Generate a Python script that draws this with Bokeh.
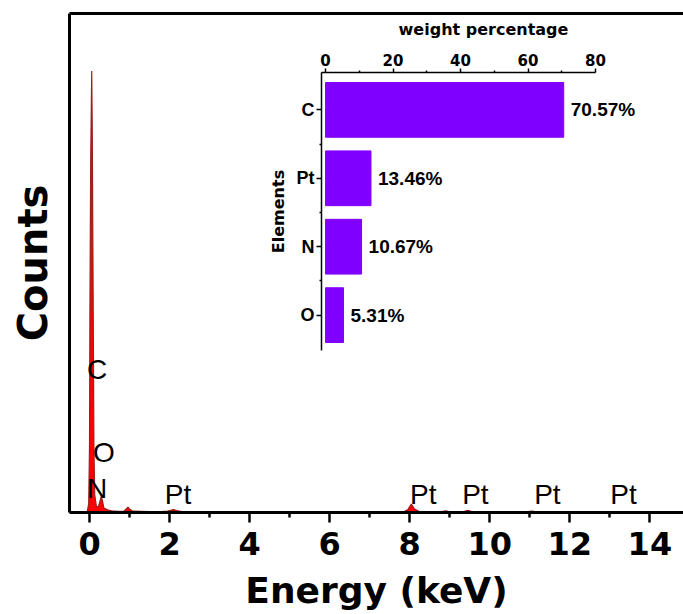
from bokeh.plotting import figure
from bokeh.models import FixedTicker, LinearAxis, Range1d, ColumnDataSource
from bokeh.core.properties import value
from bokeh.embed import file_html
from bokeh.resources import INLINE

# ---- EDS spectrum ----
energy = [-0.5, -0.06, -0.02, 0.0, 0.01, 0.03, 0.055, 0.07, 0.09, 0.11, 0.13, 0.17, 0.22,
          0.26, 0.29, 0.32, 0.36, 0.45, 0.55, 0.7, 0.86, 0.93, 0.96, 1.0, 1.08, 1.5,
          1.75, 1.85, 1.95, 2.05, 2.1, 2.18, 2.3, 3.0, 5.0, 7.0, 7.85, 7.95, 8.04, 8.12,
          8.25, 8.8, 8.9, 9.0, 9.35, 9.45, 9.55, 10.9, 11.05, 11.2, 12.0, 14.84]
counts = [0.0, 0.0, 2.0, 15.0, 45.0, 80.0, 100.0, 85.0, 50.0, 15.0, 4.0, 1.5, 1.2,
          2.5, 3.6, 2.8, 1.0, 0.6, 0.4, 0.25, 0.3, 0.9, 1.2, 0.8, 0.3, 0.2,
          0.15, 0.25, 0.3, 0.55, 0.65, 0.45, 0.2, 0.15, 0.1, 0.1, 0.15, 0.6, 1.9, 0.8,
          0.15, 0.2, 0.35, 0.15, 0.2, 0.5, 0.2, 0.15, 0.3, 0.1, 0.05, 0.05]

peak_labels = ["C", "O", "N", "Pt", "Pt", "Pt", "Pt", "Pt"]
peak_label_energy = [0.19, 0.36, 0.19, 2.21, 8.34, 9.64, 11.44, 13.34]
peak_label_counts = [32.3, 13.6, 5.5, 4.1, 4.1, 4.1, 4.1, 4.1]

x_ticks = [0, 2, 4, 6, 8, 10, 12, 14]
x_minor = [1, 3, 5, 7, 9, 11, 13]

# ---- inset: weight percentage ----
elements = ["C", "Pt", "N", "O"]
weight = [70.57, 13.46, 10.67, 5.31]
inset_ticks = [0, 20, 40, 60, 80]
inset_minor = [10, 30, 50, 70]

BOLD_WIDE = "DejaVu Sans"
ARIAL = "Liberation Sans"

p = figure(width=683, height=614, x_range=Range1d(-0.5, 14.84), y_range=Range1d(0, 113),
           output_backend="svg", toolbar_location=None,
           min_border_left=69, min_border_top=13, min_border_right=0, min_border_bottom=102)
p.outline_line_color = None
p.grid.visible = False
p.background_fill_color = "white"

p.varea(x=energy, y1=[0.0] * len(energy), y2=counts, fill_color="#ff0000")
p.line(x=energy, y=counts, line_color="#9a2020", line_width=1.2)

p.text(x=peak_label_energy, y=peak_label_counts, text=peak_labels,
       text_font=value(ARIAL), text_font_size="28px", text_align="center",
       text_baseline="alphabetic", text_color="black")

xa = p.xaxis[0]
xa.ticker = FixedTicker(ticks=x_ticks, minor_ticks=x_minor)
xa.axis_line_width = 3
xa.axis_line_color = "black"
xa.major_tick_line_width = 2.5
xa.minor_tick_line_width = 2.5
xa.major_tick_in = 0
xa.major_tick_out = 10
xa.minor_tick_in = 0
xa.minor_tick_out = 5
xa.major_label_text_font = BOLD_WIDE
xa.major_label_text_font_style = "bold"
xa.major_label_text_font_size = "32px"
xa.major_label_text_color = "black"
xa.major_label_standoff = 9
xa.axis_label = "Energy (keV)"
xa.axis_label_text_font = BOLD_WIDE
xa.axis_label_text_font_style = "bold"
xa.axis_label_text_font_size = "36px"
xa.axis_label_text_color = "black"
xa.axis_label_standoff = 12

ya = p.yaxis[0]
ya.ticker = FixedTicker(ticks=[])
ya.axis_line_width = 3
ya.axis_line_color = "black"
ya.axis_label = "Counts"
ya.axis_label_text_font = BOLD_WIDE
ya.axis_label_text_font_style = "bold"
ya.axis_label_text_font_size = "40px"
ya.axis_label_text_color = "black"
ya.axis_label_standoff = 14

top = LinearAxis(ticker=FixedTicker(ticks=[]), axis_line_width=3, axis_line_color="black")
p.add_layout(top, "above")

# ---- inset figure ----
ypos = list(range(len(elements) - 1, -1, -1))
src = ColumnDataSource(dict(y=ypos, w=weight, lab=[f"{v:.2f}%" for v in weight]))

inset = figure(width=388, height=339, x_range=Range1d(-1.2, 94.8), y_range=Range1d(-0.517, 3.546),
               x_axis_location="above", output_backend="svg", toolbar_location=None,
               min_border_left=59, min_border_top=55, min_border_right=5, min_border_bottom=5,
               styles={"position": "absolute", "left": "262px", "top": "16px"})
inset.background_fill_color = None
inset.border_fill_color = None
inset.outline_line_color = None
inset.grid.visible = False

inset.hbar(y="y", left=0, right="w", height=0.8, source=src,
           fill_color="#7f00ff", line_color="#7f00ff")
inset.text(x="w", y="y", text="lab", source=src, x_offset=7,
           text_font=value(ARIAL), text_font_style="bold", text_font_size="19px",
           text_align="left", text_baseline="middle", text_color="black")

ix = inset.xaxis[0]
ix.ticker = FixedTicker(ticks=inset_ticks, minor_ticks=inset_minor)
ix.bounds = (-1.2, 80)
ix.axis_line_width = 1.5
ix.axis_line_color = "black"
ix.major_tick_line_width = 1.5
ix.minor_tick_line_width = 1.5
ix.major_tick_in = 0
ix.major_tick_out = 4
ix.minor_tick_in = 0
ix.minor_tick_out = 2
ix.major_label_text_font = BOLD_WIDE
ix.major_label_text_font_style = "bold"
ix.major_label_text_font_size = "15px"
ix.major_label_text_color = "black"
ix.major_label_standoff = 3
ix.axis_label = "weight percentage"
ix.axis_label_text_font = BOLD_WIDE
ix.axis_label_text_font_style = "bold"
ix.axis_label_text_font_size = "16px"
ix.axis_label_text_color = "black"
ix.axis_label_standoff = 12

iy = inset.yaxis[0]
iy.ticker = FixedTicker(ticks=ypos, minor_ticks=[0.5, 1.5, 2.5])
iy.major_label_overrides = {yy: e for yy, e in zip(ypos, elements)}
iy.axis_line_width = 1.5
iy.axis_line_color = "black"
iy.major_tick_line_width = 1.5
iy.minor_tick_line_width = 1.5
iy.major_tick_in = 0
iy.major_tick_out = 5
iy.minor_tick_in = 0
iy.minor_tick_out = 2
iy.major_label_text_font = ARIAL
iy.major_label_text_font_style = "bold"
iy.major_label_text_font_size = "18px"
iy.major_label_text_color = "black"
iy.major_label_standoff = 2
iy.axis_label = "Elements"
iy.axis_label_text_font = BOLD_WIDE
iy.axis_label_text_font_style = "bold"
iy.axis_label_text_font_size = "16px"
iy.axis_label_text_color = "black"
iy.axis_label_standoff = 6

open("out.html", "w").write(file_html([p, inset], INLINE))
